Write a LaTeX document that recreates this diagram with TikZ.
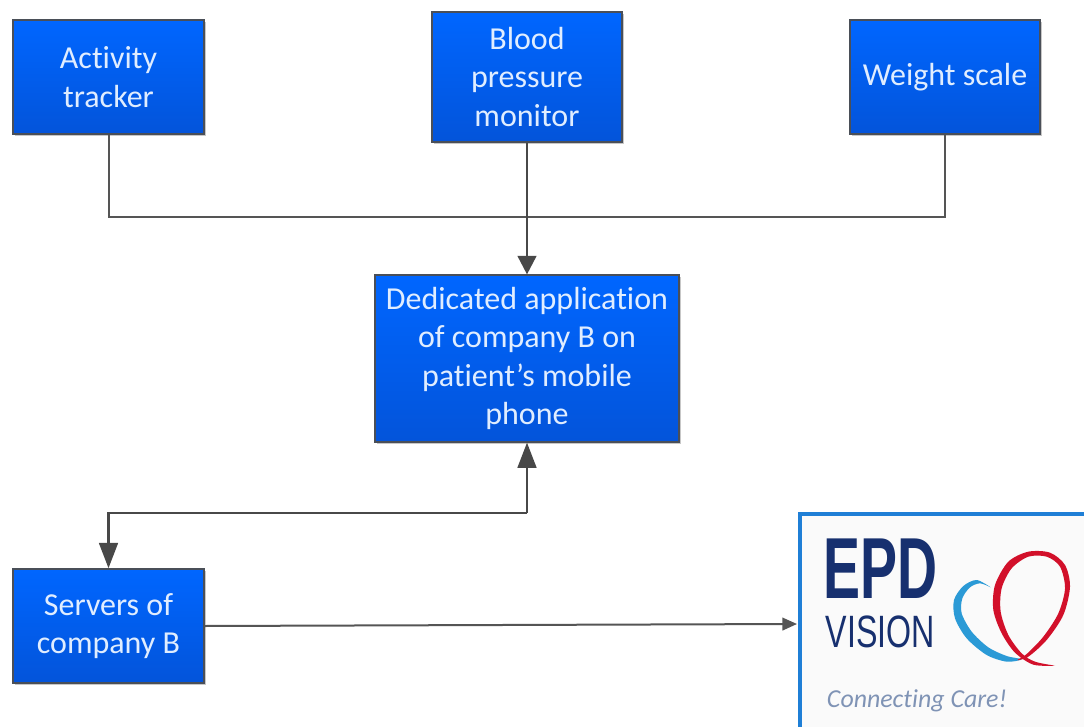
\documentclass[tikz,border=0pt]{standalone}
\usepackage{fontspec}
\setmainfont{Carlito}[RawFeature={-liga}]
\newfontfamily\logofont{Liberation Sans}
\usetikzlibrary{arrows.meta,shadows,calc}
\definecolor{boxtop}{HTML}{0066FF}
\definecolor{boxbot}{HTML}{0354DA}
\definecolor{boxline}{HTML}{4A4F58}
\definecolor{conn}{HTML}{555555}
\definecolor{epdnavy}{HTML}{17306F}
\definecolor{epdblue}{HTML}{2B9AD6}
\definecolor{epdred}{HTML}{D2102A}
\definecolor{epdgrey}{HTML}{7F93B5}
\definecolor{frameblue}{HTML}{1F7FD6}
\tikzset{
  bluebox/.style={draw=boxline,line width=1.1pt,top color=boxtop,bottom color=boxbot,
    text=white!88!boxtop,font=\fontsize{24pt}{28.9pt}\selectfont,align=center,inner sep=0pt,
    general shadow={fill=black,opacity=0.22,shadow xshift=1.5pt,shadow yshift=-1.5pt}},
  wire/.style={draw=conn,line width=1.5pt},
  heavy/.style={draw=conn!85!black,line width=2pt},
  bigtip/.style={-{Triangle[length=19pt,width=14pt]}},
  shorttip/.style={-{Triangle[length=14pt,width=14pt]}},
  smalltip/.style={-{Triangle[length=11pt,width=9.5pt]}},
  logoword/.style={inner sep=0pt,anchor=center,text=epdnavy},
}
\begin{document}
\begin{tikzpicture}[x=0.75pt,y=-0.75pt]
\useasboundingbox (0,0) rectangle (1084,727);
\fill[white] (0,0) rectangle (1084,727);
\node[bluebox,minimum width=143pt,minimum height=85.5pt] (tracker) at (108.5,77) {\raisebox{0.7pt}{Activity}\\tracker};
\node[bluebox,minimum width=142.5pt,minimum height=97.5pt] (pressure) at (527,77) {Blood\\pressure\\monitor};
\node[bluebox,minimum width=142.5pt,minimum height=85.5pt] (scale) at (945,77) {\raisebox{-1pt}{Weight scale}};
\node[bluebox,minimum width=228pt,minimum height=125pt] (app) at (527,358.5) {Dedicated application\\of company B on\\patient’s mobile\\phone};
\node[bluebox,minimum width=143pt,minimum height=85.5pt] (servers) at (108.5,626) {\raisebox{-0.7pt}{Servers of}\\\raisebox{-0.7pt}{company B}};
\coordinate (busl) at (tracker.south |- 0,217);
\coordinate (busr) at (scale.south |- 0,217);
\coordinate (bendr) at (app.south |- 0,513);
\coordinate (bendl) at (servers.north |- 0,513);
\coordinate (logoin) at (797,624);
% logo frame
\fill[white!98!black] (800,514) rectangle (1084,727);
\draw[frameblue,line width=2.4pt] (1086,514) -- (800,514) -- (800,729);
\draw[wire] (tracker.south) -- (busl) -- (busr) -- (scale.south);
\draw[heavy,shorttip] (pressure.south) -- (app.north);
\draw[heavy,bigtip] (bendr) -- (app.south);
\draw[heavy,bigtip] (bendr) -- (bendl) -- (servers.north);
\draw[wire,smalltip] (servers.east) -- (logoin);
% logo
\node[logoword] (epd) at (880.5,569) {\scalebox{0.64}[1]{\fontsize{65pt}{65pt}\logofont\bfseries EPD}};
\node[logoword] (vision) at (880.5,631.5) {\scalebox{0.71}[1]{\fontsize{34pt}{34pt}\logofont VISION}};
\node[inner sep=0pt,text=epdgrey] (care) at (917,701) {\resizebox{135pt}{!}{\itshape Connecting Care!}};
\begin{scope}[shift={(780,500)},x=0.25pt,y=-0.25pt]
\fill[epdblue] plot[smooth] coordinates {(632,262)(590,240)(550,258)(522,300)(525,355)(560,415)(620,465)(680,485)(725,478)(680,468)(625,442)(575,395)(545,340)(547,295)(570,262)(600,250)(632,262)};
\fill[epdred] plot[smooth] coordinates {(825,497)(760,494)(705,458)(665,400)(640,330)(645,255)(685,185)(745,155)(810,158)(855,195)(870,260)(850,345)(800,420)(745,470)(712,480)(740,462)(790,410)(835,340)(855,265)(840,200)(800,170)(745,170)(695,205)(665,265)(662,335)(685,405)(725,460)(765,485)(825,497)};
\end{scope}
\end{tikzpicture}
\end{document}
